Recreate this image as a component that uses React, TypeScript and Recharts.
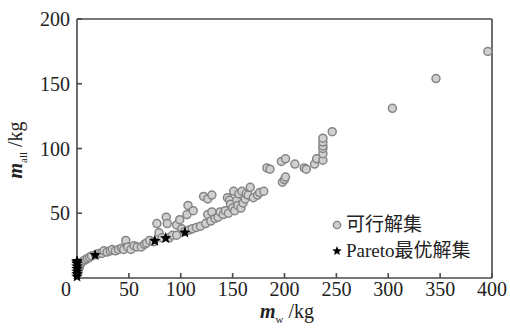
import React from 'react';
import { ScatterChart, Scatter, XAxis, YAxis, ReferenceLine } from 'recharts';

// feasible solutions (m_w, m_all)
const feasibleX = [1, 2, 3, 4, 6, 8, 10, 12, 14, 18, 21, 24, 26, 29, 32, 34, 37, 40, 43, 45, 47, 49, 52, 55, 58, 62, 65, 67, 70, 74, 77, 79, 82, 86, 87, 89, 92, 96, 96, 99, 101, 104, 106, 107, 108, 111, 112, 115, 119, 122, 124, 126, 126, 129, 130, 130, 133, 136, 138, 141, 143, 145, 146, 147, 148, 150, 151, 152, 154, 155, 156, 158, 159, 160, 162, 163, 165, 167, 170, 174, 176, 180, 183, 186, 197, 198, 200, 201, 201, 210, 219, 221, 229, 231, 237, 237, 237, 237, 237, 237, 246, 304, 346, 396];
const feasibleY = [5, 8, 10, 12, 13, 14, 15, 16, 17, 18, 19, 19, 21, 20, 21, 22, 21, 22, 23, 22, 29, 24, 22, 25, 24, 24, 26, 27, 29, 28, 42, 35, 31, 47, 42, 31, 33, 33, 41, 45, 38, 36, 49, 56, 37, 38, 52, 39, 40, 63, 42, 61, 49, 44, 64, 51, 46, 47, 51, 49, 52, 62, 50, 60, 57, 54, 67, 52, 60, 56, 65, 54, 67, 58, 61, 65, 64, 70, 62, 64, 66, 67, 85, 84, 90, 74, 76, 92, 78, 88, 85, 84, 88, 92, 91, 96, 100, 102, 105, 108, 113, 131, 154, 175];

// Pareto optimal set
const paretoX = [0, 0, 0, 0, 0, 0, 0, 0, 17.5, 75, 85.5, 104];
const paretoY = [1, 3, 5, 7, 9, 11, 12, 13, 17.6, 28.7, 30.8, 35.1];

const xTicks = [0, 50, 100, 150, 200, 250, 300, 350, 400];
const yTicks = [50, 100, 150, 200];

const feasible = feasibleX.map((x, i) => ({ x, y: feasibleY[i] }));
const pareto = paretoX.map((x, i) => ({ x, y: paretoY[i] }));

const FONT = "'Liberation Serif', 'Noto Sans CJK SC', serif";
const AXIS = '#4a4a4a';

const starPath = (cx: number, cy: number, R: number, r: number) => {
  let d = '';
  for (let i = 0; i < 10; i++) {
    const rad = i % 2 === 0 ? R : r;
    const a = -Math.PI / 2 + (i * Math.PI) / 5;
    d += (i === 0 ? 'M' : 'L') + (cx + rad * Math.cos(a)).toFixed(2) + ',' + (cy + rad * Math.sin(a)).toFixed(2);
  }
  return d + 'Z';
};

const CircleDot = (props: any) => (
  <circle cx={props.cx} cy={props.cy} r={4} fill="#d0d0d0" stroke="#858585" strokeWidth={1.5} />
);

const StarDot = (props: any) => <path d={starPath(props.cx, props.cy, 6, 2.6)} fill="#000" />;

const XTick = (props: any) => {
  const { x, y, payload } = props;
  const shift = payload.value === 0 ? -11 : 0;
  return (
    <text x={x + shift} y={y} dy="0.71em" textAnchor="middle" fontSize={20} fontFamily={FONT} fill="#222">
      {payload.value}
    </text>
  );
};

const YTick = (props: any) => {
  const { x, y, payload } = props;
  return (
    <text x={x} y={y} dy="0.355em" textAnchor="end" fontSize={20} fontFamily={FONT} fill="#222">
      {payload.value}
    </text>
  );
};

const LegendBox = () => (
  <div
    style={{
      position: 'absolute',
      left: 330,
      top: 212,
      fontFamily: FONT,
      fontSize: 19,
      color: '#222',
      lineHeight: '26px',
    }}
  >
    <div style={{ display: 'flex', alignItems: 'center' }}>
      <svg width={16} height={26}>
        <circle cx={7} cy={13} r={3.6} fill="#d0d0d0" stroke="#858585" strokeWidth={1.4} />
      </svg>
      <span>可行解集</span>
    </div>
    <div style={{ display: 'flex', alignItems: 'center' }}>
      <svg width={16} height={26}>
        <path d={starPath(7, 13, 5, 2.2)} fill="#000" />
      </svg>
      <span>Pareto最优解集</span>
    </div>
  </div>
);

export default function App() {
  return (
    <div style={{ position: 'absolute', left: 0, top: 0, width: 510, height: 328, background: '#fff' }}>
      <ScatterChart width={510} height={328} margin={{ top: 19, right: 18, bottom: 0, left: 0 }}>
        <XAxis
          type="number"
          dataKey="x"
          domain={[0, 400]}
          ticks={xTicks}
          height={50}
          tickSize={-5}
          tickMargin={9}
          tick={<XTick />}
          stroke={AXIS}
          strokeWidth={1.6}
          label={{
            content: () => (
              <text x={287} y={318} textAnchor="middle" fontFamily={FONT} fontSize={20} fill="#222">
                <tspan fontStyle="italic" fontWeight="bold">m</tspan>
                <tspan fontSize={11} dy={5}>w</tspan>
                <tspan dy={-5}> /kg</tspan>
              </text>
            ),
          }}
        />
        <YAxis
          type="number"
          dataKey="y"
          domain={[0, 200]}
          ticks={yTicks}
          width={77}
          tickSize={-5}
          tickMargin={12}
          tick={<YTick />}
          stroke={AXIS}
          strokeWidth={1.6}
          label={{
            content: () => (
              <text transform="translate(22,150) rotate(-90)" textAnchor="middle" fontFamily={FONT} fontSize={20} fill="#222">
                <tspan fontStyle="italic" fontWeight="bold">m</tspan>
                <tspan fontSize={11} dy={5}>all</tspan>
                <tspan dy={-5}> /kg</tspan>
              </text>
            ),
          }}
        />
        <ReferenceLine y={200} stroke={AXIS} strokeWidth={1.6} />
        <ReferenceLine x={400} stroke={AXIS} strokeWidth={1.6} />
        <Scatter name="可行解集" data={feasible} shape={<CircleDot />} isAnimationActive={false} />
        <Scatter name="Pareto最优解集" data={pareto} shape={<StarDot />} isAnimationActive={false} />
      </ScatterChart>
      <LegendBox />
    </div>
  );
}
